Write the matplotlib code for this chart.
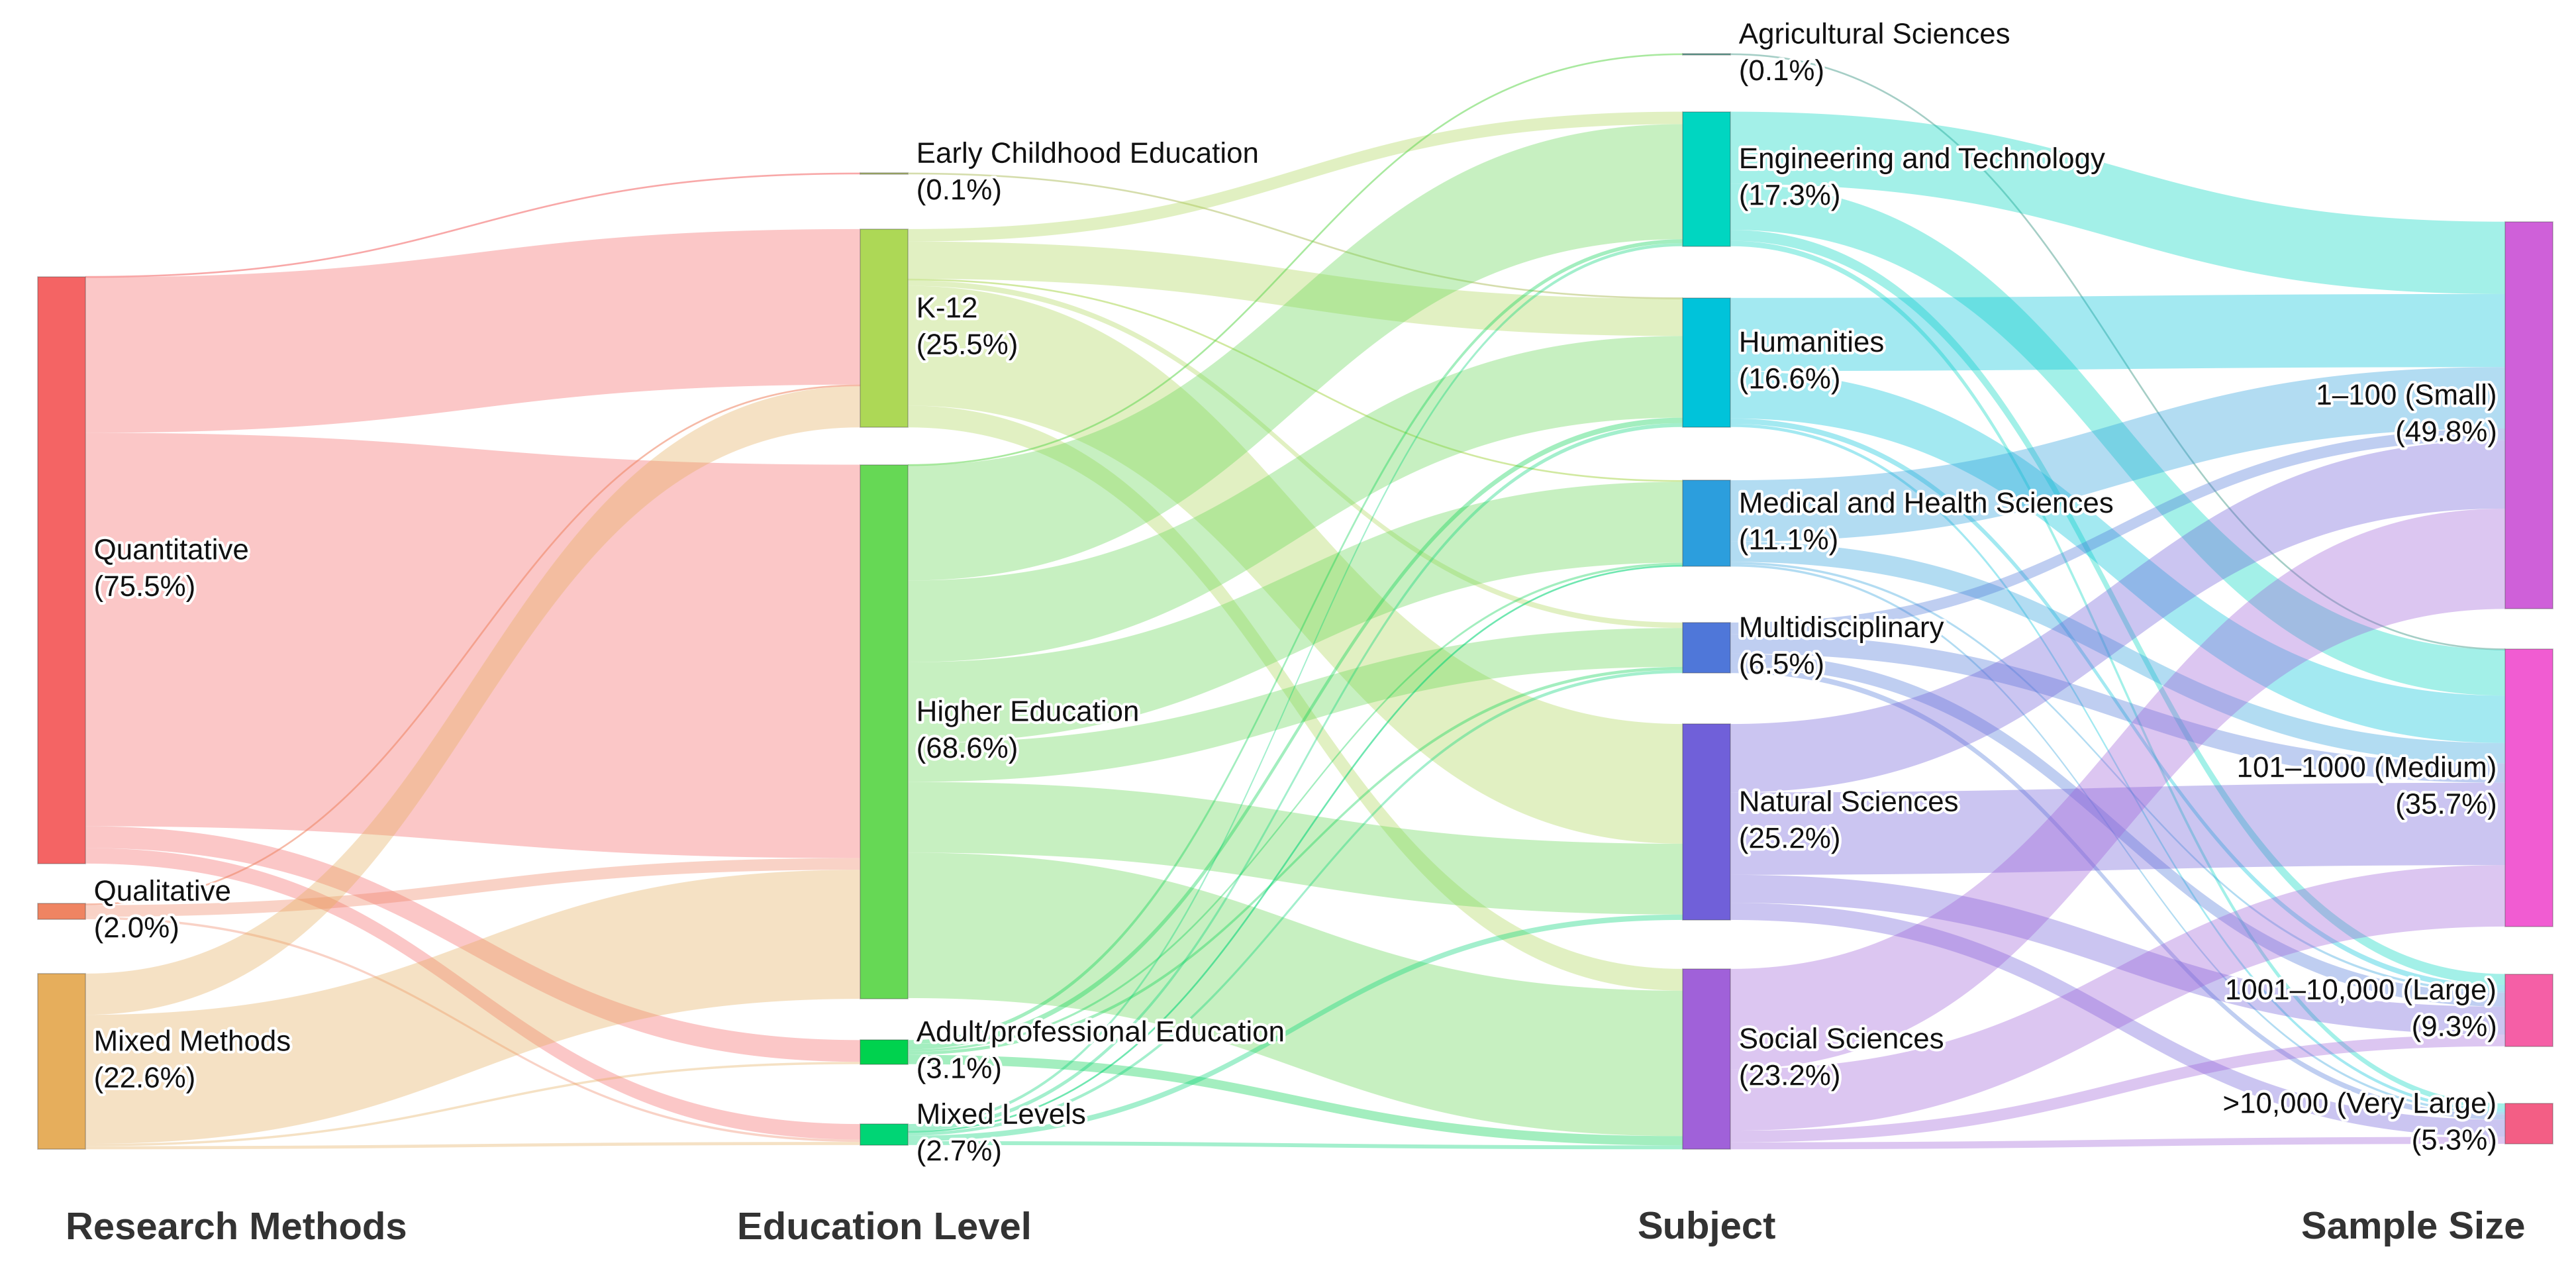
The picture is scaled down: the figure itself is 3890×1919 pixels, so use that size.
import numpy as np
import matplotlib.pyplot as plt
from matplotlib.patches import Polygon, Rectangle
import matplotlib.patheffects as pe

plt.rcParams['font.family'] = ['Liberation Sans', 'DejaVu Sans']

# ---- data (percent of studies) ----
methods = ['Quantitative', 'Qualitative', 'Mixed Methods']
method_pct = [75.5, 2.0, 22.6]

levels = ['Early Childhood Education', 'K-12', 'Higher Education',
          'Adult/professional Education', 'Mixed Levels']
level_pct = [0.1, 25.5, 68.6, 3.1, 2.7]

subjects = ['Agricultural Sciences', 'Engineering and Technology', 'Humanities',
            'Medical and Health Sciences', 'Multidisciplinary', 'Natural Sciences',
            'Social Sciences']
subject_pct = [0.1, 17.3, 16.6, 11.1, 6.5, 25.2, 23.2]

sizes = ['1–100 (Small)', '101–1000 (Medium)', '1001–10,000 (Large)',
         '>10,000 (Very Large)']
size_pct = [49.8, 35.7, 9.3, 5.3]

# flows: rows = source node, columns = target node
method_to_level = [
    [0.1, 20.0, 50.6, 2.8, 2.0],
    [0.0, 0.2, 1.5, 0.0, 0.3],
    [0.0, 5.3, 16.6, 0.3, 0.4],
]
level_to_subject = [
    [0.0, 0.0, 0.1, 0.0, 0.0, 0.0, 0.0],
    [0.0, 1.6, 4.8, 0.2, 0.7, 15.4, 2.8],
    [0.1, 14.8, 10.5, 10.4, 5.0, 9.1, 18.7],
    [0.0, 0.5, 0.7, 0.3, 0.4, 0.0, 1.2],
    [0.0, 0.4, 0.5, 0.2, 0.4, 0.7, 0.5],
]
subject_to_size = [
    [0.0, 0.1, 0.0, 0.0],
    [9.3, 5.9, 1.4, 0.7],
    [9.4, 6.1, 0.7, 0.4],
    [7.9, 2.6, 0.3, 0.3],
    [1.5, 2.5, 1.8, 0.7],
    [8.8, 10.6, 3.6, 2.2],
    [12.9, 7.9, 1.5, 0.9],
]

column_titles = ['Research Methods', 'Education Level', 'Subject', 'Sample Size']

# ---- layout / style ----
names = [methods, levels, subjects, sizes]
pcts = [method_pct, level_pct, subject_pct, size_pct]
flows = [np.array(method_to_level), np.array(level_to_subject), np.array(subject_to_size)]

# vertical node centres (in percent units from the top of the plot area)
node_centre = [
    [67.4, 111.3, 130.6],
    [16.4, 36.3, 88.2, 129.4, 140.0],
    [1.06, 17.1, 40.7, 61.4, 77.4, 99.8, 130.3],
    [47.5, 95.4, 124.0, 138.6],
]

node_colors = [
    ['#F46464', '#EF8462', '#E6AE5C'],
    ['#B5C46C', '#ADD856', '#66D855', '#00D24E', '#00D575'],
    ['#5FA99A', '#00D6C1', '#00C3DA', '#2C9EDD', '#4F77D9', '#7060D9', '#A061D9'],
    ['#CF60D9', '#F15CD2', '#F55FA6', '#F35E85'],
]
link_alpha = 0.36
node_w = 0.058
label_size = 15.8
title_size = 20.9
px_per_unit = 4.735 * 3890 / 1568      # output pixels per percent
min_link_px = 2.6

fig = plt.figure(figsize=(19.45, 9.595), dpi=200)
ax = fig.add_axes([0, 0, 1, 1])
ax.set_xlim(-23 / 500.67, (1568 - 23) / 500.67)
ax.set_ylim((774 - 28) / 4.735, -28 / 4.735)
ax.axis('off')

# node values = max(inflow, outflow)
values = []
for c in range(4):
    out_v = flows[c].sum(axis=1) if c < 3 else np.zeros(len(names[c]))
    in_v = flows[c - 1].sum(axis=0) if c > 0 else np.zeros(len(names[c]))
    values.append(np.maximum(out_v, in_v))

tops = [[node_centre[c][i] - values[c][i] / 2 for i in range(len(names[c]))] for c in range(4)]


def draw_band(x0, x1, s0, s1, t0, t1, color):
    t = np.linspace(0, 1, 120)
    xm = (x0 + x1) / 2
    bx = (1 - t) ** 3 * x0 + 3 * (1 - t) ** 2 * t * xm + 3 * (1 - t) * t ** 2 * xm + t ** 3 * x1
    h = 3 * t ** 2 - 2 * t ** 3
    top = s0 + (t0 - s0) * h
    bot = s1 + (t1 - s1) * h
    if (s1 - s0) * px_per_unit < min_link_px:
        # very thin flows: draw as a line so they stay visible
        ax.plot(bx, (top + bot) / 2, color=color, alpha=link_alpha + 0.2,
                lw=min_link_px * 72 / 200, solid_capstyle='butt', zorder=1)
        return
    pts = np.column_stack([np.r_[bx, bx[::-1]], np.r_[top, bot[::-1]]])
    ax.add_patch(Polygon(pts, closed=True, facecolor=color, alpha=link_alpha,
                         edgecolor='none', zorder=1))


# links
for s in range(3):
    f = flows[s]
    n_src, n_tgt = f.shape
    src_start = {}
    for i in range(n_src):
        y = tops[s][i]
        for j in sorted(range(n_tgt), key=lambda k: node_centre[s + 1][k]):
            if f[i, j] > 0:
                src_start[(i, j)] = y
                y += f[i, j]
    tgt_start = {}
    for j in range(n_tgt):
        y = tops[s + 1][j]
        for i in sorted(range(n_src), key=lambda k: node_centre[s][k]):
            if f[i, j] > 0:
                tgt_start[(i, j)] = y
                y += f[i, j]
    for i in range(n_src):
        for j in range(n_tgt):
            v = f[i, j]
            if v <= 0:
                continue
            a = src_start[(i, j)]
            b = tgt_start[(i, j)]
            draw_band(s + node_w, s + 1, a, a + v, b, b + v, node_colors[s][i])

# nodes and labels
halo = [pe.withStroke(linewidth=3, foreground='white')]
for c in range(4):
    for i, name in enumerate(names[c]):
        h = max(values[c][i], min_link_px / px_per_unit)
        ax.add_patch(Rectangle((c, node_centre[c][i] - h / 2), node_w, h,
                               facecolor=node_colors[c][i], edgecolor=(0.27, 0.27, 0.27, 0.35),
                               linewidth=0.6, zorder=3))
        txt = f"{name}\n({pcts[c][i]:.1f}%)"
        if c < 3:
            ax.annotate(txt, xy=(c + node_w, node_centre[c][i]), xytext=(4.5, 0),
                        textcoords='offset points', ha='left', va='center',
                        fontsize=label_size, color='#111111', linespacing=1.45,
                        path_effects=halo, zorder=5)
        else:
            ax.annotate(txt, xy=(c, node_centre[c][i]), xytext=(-4.5, 0),
                        textcoords='offset points', ha='right', va='center',
                        fontsize=label_size, color='#111111', linespacing=1.45,
                        multialignment='right', path_effects=halo, zorder=5)

# column titles
title_x = [0.034, 1 + node_w / 2, 2 + node_w / 2, 3 + node_w - 0.034]
title_ha = ['left', 'center', 'center', 'right']
for k, title in enumerate(column_titles):
    ax.text(title_x[k], 152.1, title, ha=title_ha[k], va='center',
            fontsize=title_size, fontweight='bold', color='#333333')

fig.savefig('out.png', dpi=200, facecolor='white')
